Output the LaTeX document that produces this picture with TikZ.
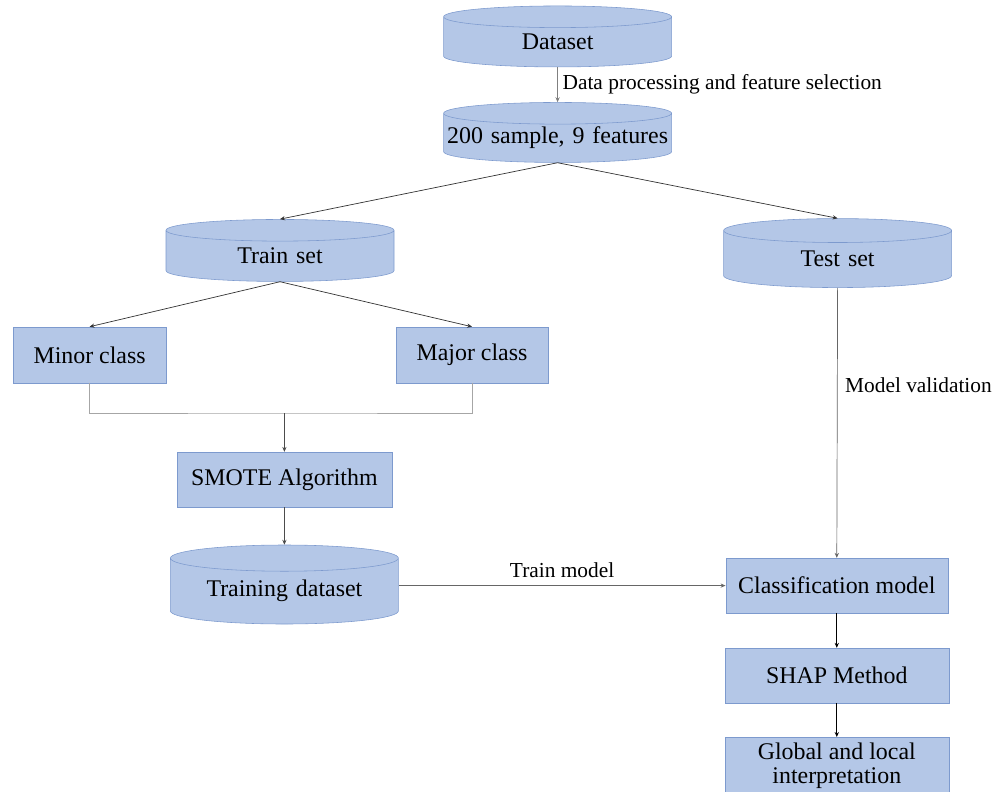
\documentclass[tikz,border=0pt]{standalone}
\usepackage{fontspec}
\setmainfont{Liberation Serif}
\usetikzlibrary{shapes.geometric,arrows.meta}

\definecolor{boxfill}{RGB}{180,199,231}
\definecolor{boxline}{RGB}{125,154,206}

\tikzset{
	db/.style={cylinder, shape border rotate=90, aspect=0.095, text width=5.7cm, align=center, draw=boxline, fill=boxfill, inner sep=0pt, font=\fontsize{17}{20}\selectfont},
	box/.style={rectangle, draw=boxline, fill=boxfill, inner sep=0pt, font=\fontsize{17}{17}\selectfont},
	lbl/.style={font=\fontsize{15.2}{18}\selectfont},
	tip/.style={-{Stealth[length=3.5pt,width=3pt]}},
}

\begin{document}
\begin{tikzpicture}
		\useasboundingbox (0,0) rectangle (25.05,-19.8);
		\node[db, minimum height=1.525cm] (dataset) at (13.94,-1.05) {Dataset};
		\node[db, minimum height=1.5cm] (sample) at (13.94,-3.45) {200 sample, 9 features};
		\node[db, minimum height=1.55cm] (trainset) at (7.0,-6.4) {Train set};
		\node[db, minimum height=1.725cm, aspect=0.105] (testset) at (20.94,-6.48) {Test set};
		\node[box, minimum width=3.825cm, minimum height=1.4cm] (minor) at (2.24,-8.875) {Minor class};
		\node[box, minimum width=3.8cm, minimum height=1.4cm] (major) at (11.8,-8.875) {Major class};
		\node[box, minimum width=5.375cm, minimum height=1.375cm] (smote) at (7.11,-11.99) {SMOTE Algorithm};
		\node[db, minimum height=1.975cm, aspect=0.115] (trainingdata) at (7.11,-14.78) {Training dataset};
		\node[box, minimum width=5.55cm, minimum height=1.375cm] (model) at (20.92,-14.64) {Classification model};
		\node[box, minimum width=5.6cm, minimum height=1.375cm] (shap) at (20.92,-16.89) {SHAP Method};
		\node[box, minimum width=5.6cm, inner ysep=4pt, align=center, anchor=north] (interp) at (20.92,-18.425) {Global and local\\interpretation\\\mbox{}};
		\coordinate (join) at (7.11,-10.325);

		\draw[tip, gray, line width=0.5pt] (dataset.south) -- (sample.north) node[lbl, midway, right, black] {Data processing and feature selection};
		\foreach \t in {trainset, testset}
			\draw[tip, black!80, line width=0.5pt] (sample.south) -- (\t.north);
		\foreach \t in {minor, major}
			\draw[tip, black!80, line width=0.5pt] (trainset.south) -- (\t.north);
		\draw[black!35, line width=0.6pt] (minor.south) |- (join) -| (major.south);
		\draw[tip, black!70, line width=0.5pt] (join) -- (smote.north);
		\draw[tip, black!70, line width=0.5pt] (smote.south) -- (trainingdata.north);
		\draw[tip, black!60, line width=0.5pt] (model.west -| trainingdata.east) -- (model.west) node[lbl, midway, above, black, yshift=2pt] {Train model};
		\draw[tip, black!60, line width=0.5pt] (testset.south) -- (model.north) node[lbl, pos=0.36, right, black, xshift=2pt] {Model validation};
		\draw[tip, black, line width=0.8pt] (model.south) -- (shap.north);
		\draw[tip, black, line width=0.8pt] (shap.south) -- (interp.north);
	\end{tikzpicture}
\end{document}
